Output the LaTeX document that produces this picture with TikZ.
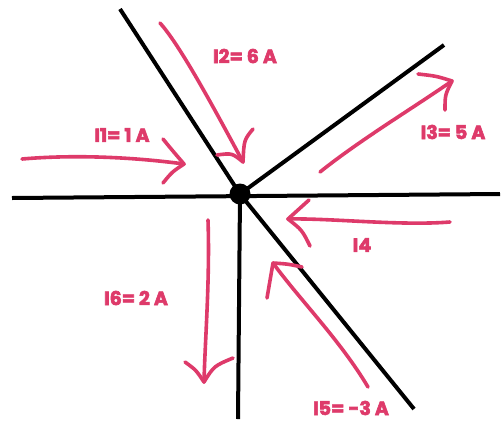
\documentclass[tikz,border=0pt]{standalone}
\usepackage{fontspec}
\newfontfamily\lblfont{Poppins}[UprightFont=* Bold, FakeBold=3]
\begin{document}
\begin{tikzpicture}[x=1pt,y=-1pt,
  wire/.style={black,line width=4pt},
  cur/.style={draw=curpink,line width=3.6pt,line cap=round,line join=round},
  lbl/.style={text=curpink,font=\lblfont\fontsize{19}{20}\selectfont,inner sep=0pt}]
\definecolor{curpink}{HTML}{DE3A6A}
\useasboundingbox[fill=white] (0,0) rectangle (503,421);
% wires
\node[circle,fill=black,minimum size=21pt,inner sep=0pt] (J) at (240,194) {};
\coordinate (wL) at (12,198);
\coordinate (wR) at (500,194);
\coordinate (wUL) at (120,9);
\coordinate (wUR) at (444,45);
\coordinate (wD) at (238,419);
\coordinate (wDR) at (414,409);
\draw[wire] (wL) -- (wR);
\draw[wire] (wUL) -- (J.center);
\draw[wire] (J.center) -- (wUR);
\draw[wire] (J.center) -- (wD);
\draw[wire] (J.center) -- (wDR);
% I1
\coordinate (a1s) at (22,159);
\coordinate (a1t) at (184,164);
\draw[cur] (a1s) .. controls (80,154) and (140,158) .. (a1t);
\draw[cur] (163,139) .. controls (172,150) .. (a1t) .. controls (172,172) .. (163,183);
\node[lbl] (l1) at (122,135) {I1= 1 A};
% I2
\coordinate (a2s) at (160,23);
\coordinate (a2t) at (243,162);
\draw[cur] (a2s) .. controls (180,45) and (215,110) .. (a2t);
\draw[cur] (217,155) .. controls (232,153) .. (a2t) .. controls (244,140) .. (253,129);
\node[lbl] (l2) at (245,56) {I2= 6 A};
% I3
\coordinate (a3s) at (320,172);
\coordinate (a3t) at (452,81);
\draw[cur] (a3s) .. controls (360,140) and (410,110) .. (a3t);
\draw[cur] (418,74) .. controls (436,76) .. (a3t) .. controls (445,95) .. (445,110);
\node[lbl] (l3) at (453,132) {I3= 5 A};
% I4
\coordinate (a4s) at (450,222);
\coordinate (a4t) at (288,219);
\draw[cur] (a4s) .. controls (400,226) and (330,218) .. (a4t);
\draw[cur] (309,200) .. controls (298,210) .. (a4t) .. controls (302,230) .. (310,246);
\node[lbl] (l4) at (362,245) {I4};
% I5
\coordinate (a5s) at (368,387);
\coordinate (a5t) at (273,263);
\draw[cur] (a5s) .. controls (340,340) and (300,300) .. (a5t);
\draw[cur] (302,267) .. controls (288,264) .. (a5t) .. controls (270,280) .. (267,298);
\node[lbl] (l5) at (351,408) {I5= -3 A};
% I6
\coordinate (a6s) at (208,220);
\coordinate (a6t) at (204,382);
\draw[cur] (a6s) .. controls (210,280) and (205,340) .. (a6t);
\draw[cur] (185,362) .. controls (196,370) .. (a6t) .. controls (214,366) .. (233,358);
\node[lbl] (l6) at (136,298) {I6= 2 A};
\end{tikzpicture}
\end{document}
